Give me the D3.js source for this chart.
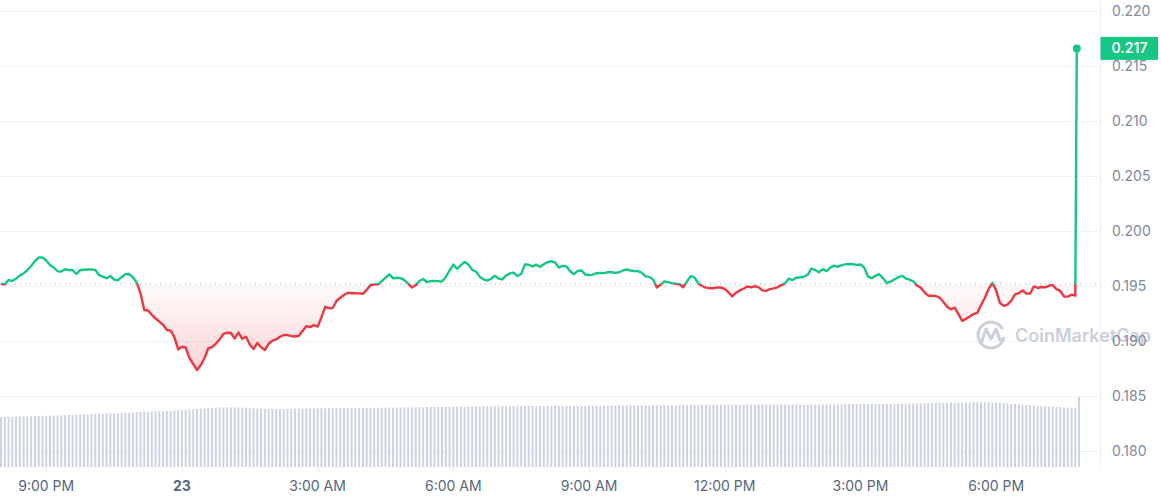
<!DOCTYPE html>
<html><head><meta charset="utf-8">
<script src="https://cdn.jsdelivr.net/npm/d3@7"></script>
<style>html,body{margin:0;padding:0;background:#fff;} svg{display:block;font-family:Inter,"Noto Sans",sans-serif;}</style>
</head><body><svg id="chart" width="1161" height="500"></svg>
<script>
// ---------------- data ----------------
const startTime = "2024-01-22T20:00:00";
const stepMinutes = 5;
const basePrice = 0.19518;
const prices = [
0.19518,0.19515,0.19555,0.19545,0.19568,0.19594,0.19614,0.19645,0.19682,0.19727,
0.19759,0.19759,0.19732,0.19691,0.19668,0.19634,0.19632,0.19652,0.19645,0.19643,
0.19609,0.19645,0.19648,0.19650,0.19650,0.19647,0.19600,0.19585,0.19571,0.19591,
0.19559,0.19552,0.19582,0.19607,0.19609,0.19579,0.19532,0.19436,0.19282,0.19277,
0.19238,0.19204,0.19177,0.19147,0.19100,0.19094,0.19036,0.18923,0.18948,0.18941,
0.18845,0.18791,0.18736,0.18782,0.18845,0.18934,0.18945,0.18975,0.19015,0.19064,
0.19075,0.19073,0.19023,0.19077,0.19020,0.19039,0.18968,0.18927,0.18982,0.18943,
0.18918,0.18975,0.19004,0.19014,0.19038,0.19055,0.19054,0.19045,0.19041,0.19048,
0.19091,0.19135,0.19126,0.19145,0.19131,0.19214,0.19311,0.19298,0.19300,0.19364,
0.19393,0.19418,0.19438,0.19434,0.19434,0.19433,0.19429,0.19464,0.19507,0.19515,
0.19515,0.19545,0.19575,0.19605,0.19571,0.19575,0.19572,0.19553,0.19523,0.19486,
0.19507,0.19545,0.19564,0.19536,0.19545,0.19545,0.19544,0.19540,0.19582,0.19641,
0.19695,0.19655,0.19690,0.19718,0.19695,0.19647,0.19632,0.19585,0.19561,0.19549,
0.19566,0.19593,0.19567,0.19560,0.19596,0.19615,0.19622,0.19591,0.19609,0.19697,
0.19693,0.19678,0.19694,0.19673,0.19698,0.19717,0.19725,0.19714,0.19668,0.19683,
0.19678,0.19634,0.19607,0.19638,0.19641,0.19605,0.19600,0.19603,0.19616,0.19618,
0.19617,0.19625,0.19625,0.19619,0.19625,0.19641,0.19651,0.19641,0.19636,0.19635,
0.19620,0.19588,0.19583,0.19558,0.19486,0.19513,0.19541,0.19535,0.19526,0.19520,
0.19516,0.19489,0.19542,0.19591,0.19577,0.19523,0.19500,0.19485,0.19479,0.19480,
0.19486,0.19486,0.19473,0.19443,0.19405,0.19439,0.19460,0.19475,0.19495,0.19488,
0.19498,0.19487,0.19460,0.19456,0.19471,0.19479,0.19488,0.19508,0.19525,0.19567,
0.19554,0.19575,0.19579,0.19584,0.19602,0.19659,0.19645,0.19625,0.19653,0.19635,
0.19667,0.19685,0.19674,0.19689,0.19697,0.19700,0.19698,0.19692,0.19695,0.19668,
0.19586,0.19571,0.19593,0.19607,0.19570,0.19527,0.19539,0.19559,0.19579,0.19593,
0.19570,0.19558,0.19542,0.19505,0.19485,0.19443,0.19412,0.19412,0.19409,0.19395,
0.19355,0.19312,0.19288,0.19303,0.19245,0.19183,0.19201,0.19222,0.19245,0.19255,
0.19327,0.19391,0.19473,0.19529,0.19461,0.19347,0.19319,0.19331,0.19365,0.19423,
0.19435,0.19459,0.19432,0.19431,0.19496,0.19482,0.19491,0.19488,0.19502,0.19508,
0.19471,0.19455,0.19405,0.19403,0.19421,0.19412
];
const lastPrice = 0.2166;
const lastMinute = 1427;
// volume (millions)
const volumes = [
1320,1322,1325,1326,1330,1333,1335,1337,1340,1343,
1346,1350,1352,1356,1358,1361,1365,1368,1371,1375,
1380,1384,1389,1392,1396,1400,1404,1410,1414,1417,
1420,1423,1428,1431,1436,1441,1445,1449,1455,1461,
1466,1470,1474,1478,1483,1488,1494,1500,1505,1511,
1517,1523,1530,1538,1546,1553,1560,1566,1570,1574,
1576,1577,1576,1573,1568,1562,1555,1548,1542,1537,
1534,1532,1531,1530,1531,1532,1533,1535,1537,1539,
1541,1543,1545,1547,1549,1550,1551,1552,1553,1554,
1555,1556,1556,1557,1557,1558,1559,1560,1561,1562,
1563,1564,1565,1566,1567,1568,1570,1571,1572,1574,
1575,1577,1578,1580,1581,1583,1584,1586,1587,1589,
1590,1592,1593,1594,1596,1597,1598,1599,1600,1601,
1602,1603,1604,1605,1606,1607,1607,1608,1609,1609,
1610,1610,1611,1611,1612,1612,1613,1613,1614,1614,
1615,1615,1616,1616,1617,1617,1618,1618,1619,1619,
1620,1620,1621,1621,1622,1622,1623,1623,1624,1624,
1625,1625,1626,1626,1627,1628,1629,1630,1631,1632,
1633,1634,1635,1636,1636,1637,1637,1638,1638,1639,
1639,1640,1640,1641,1641,1642,1642,1643,1643,1644,
1644,1645,1645,1646,1646,1647,1647,1648,1648,1649,
1649,1650,1650,1651,1651,1652,1652,1653,1653,1654,
1654,1655,1655,1656,1657,1657,1658,1658,1659,1660,
1660,1661,1662,1662,1663,1664,1665,1666,1667,1668,
1670,1672,1674,1676,1678,1680,1683,1686,1689,1692,
1695,1697,1699,1701,1703,1704,1705,1706,1707,1707,
1708,1708,1707,1705,1700,1694,1686,1678,1670,1662,
1655,1648,1640,1632,1624,1617,1610,1603,1596,1590,
1584,1578,1572,1565,1558,1552,1855
];
const yTicks = [0.180,0.185,0.190,0.195,0.200,0.205,0.210,0.215,0.220];
const xTickEveryHours = 3;
const watermarkText = "CoinMarketCap";

// ---------------- chart ----------------
const GREEN = "#16c784", RED = "#ea3943";
const svg = d3.select("#chart");
const t0 = new Date(startTime);
const t1 = d3.timeHour.offset(t0, 24);
const x = d3.scaleTime().domain([t0, t1]).range([1, 1086.6]);
const y = d3.scaleLinear().domain([0.180, 0.220]).range([451, 11]);
const yv = d3.scaleLinear().domain([0, 1900]).range([467, 395]);

const series = prices.map((v, i) => ({t: d3.timeMinute.offset(t0, i * stepMinutes), v}));
series.push({t: d3.timeMinute.offset(t0, lastMinute), v: lastPrice});
const volSeries = volumes.map((v, i) => ({t: d3.timeMinute.offset(t0, i * stepMinutes), v}));

const plotRight = 1100.5;
const baseY = y(basePrice);

const defs = svg.append("defs");
defs.append("clipPath").attr("id", "clipUp").append("rect")
  .attr("x", -5).attr("y", 0).attr("width", plotRight + 5).attr("height", baseY);
defs.append("clipPath").attr("id", "clipDown").append("rect")
  .attr("x", -5).attr("y", baseY).attr("width", plotRight + 5).attr("height", 500 - baseY);
const gRed = defs.append("linearGradient").attr("id", "gradRed")
  .attr("gradientUnits", "userSpaceOnUse").attr("x1", 0).attr("x2", 0)
  .attr("y1", baseY).attr("y2", y(0.1873));
gRed.append("stop").attr("offset", 0).attr("stop-color", RED).attr("stop-opacity", 0.02);
gRed.append("stop").attr("offset", 1).attr("stop-color", RED).attr("stop-opacity", 0.22);

// gridlines
svg.append("g").selectAll("line").data(yTicks).join("line")
  .attr("x1", 0).attr("x2", plotRight).attr("y1", d => Math.round(y(d)) + 0.5).attr("y2", d => Math.round(y(d)) + 0.5)
  .attr("stroke", "#f1f3f6").attr("stroke-width", 1);
svg.append("line").attr("x1", plotRight).attr("x2", plotRight).attr("y1", 0).attr("y2", 470)
  .attr("stroke", "#eff2f5");

// volume bars
svg.append("g").selectAll("rect").data(volSeries).join("rect")
  .attr("x", d => x(d.t) - 1).attr("width", 2)
  .attr("y", d => yv(d.v)).attr("height", d => yv(0) - yv(d.v))
  .attr("fill", "#cdd3e0");

// x axis ticks & labels
const xTicks = x.ticks(d3.timeHour.every(xTickEveryHours));
const fmtTime = d3.timeFormat("%-I:%M %p"), fmtDay = d3.timeFormat("%-d");
const xg = svg.append("g");
xg.selectAll("line").data(xTicks).join("line")
  .attr("x1", d => Math.round(x(d)) + 0.5).attr("x2", d => Math.round(x(d)) + 0.5)
  .attr("y1", 468).attr("y2", 473).attr("stroke", "#e3e6eb");
xg.selectAll("text").data(xTicks).join("text")
  .attr("x", d => x(d)).attr("y", 491).attr("text-anchor", "middle")
  .attr("font-size", 14)
  .attr("font-weight", d => d.getHours() === 0 ? 700 : 400)
  .attr("fill", "#58667e")
  .text(d => d.getHours() === 0 ? fmtDay(d) : fmtTime(d));

// watermark
const wm = svg.append("g");
wm.append("path")
  .attr("d", d3.arc()({innerRadius: 11.5, outerRadius: 14.5, startAngle: 0.55 * Math.PI, endAngle: 2.35 * Math.PI}))
  .attr("transform", "translate(991,335)").attr("fill", "#cbcfda");
wm.append("path")
  .attr("d", "M982,341 L986,329 L991,339 L996,329 L1000,340")
  .attr("fill", "none").attr("stroke", "#cbcfda").attr("stroke-width", 3).attr("stroke-linejoin", "round").attr("stroke-linecap", "round");
wm.append("text").attr("x", 1015).attr("y", 342).attr("font-size", 18).attr("font-weight", 600)
  .attr("fill", "#cbcfda").text(watermarkText);

// area below baseline
const area = d3.area().x(d => x(d.t)).y0(baseY).y1(d => y(d.v));
svg.append("path").datum(series).attr("d", area).attr("fill", "url(#gradRed)").attr("clip-path", "url(#clipDown)");

// baseline dotted
svg.append("line").attr("x1", 0).attr("x2", plotRight).attr("y1", baseY).attr("y2", baseY)
  .attr("stroke", "#a6adbb").attr("stroke-width", 1).attr("stroke-dasharray", "1,4");

// price line
const line = d3.line().x(d => x(d.t)).y(d => y(d.v));
svg.append("path").datum(series).attr("d", line).attr("fill", "none").attr("stroke", GREEN)
  .attr("stroke-width", 2.4).attr("stroke-linejoin", "round").attr("clip-path", "url(#clipUp)");
svg.append("path").datum(series).attr("d", line).attr("fill", "none").attr("stroke", RED)
  .attr("stroke-width", 2.4).attr("stroke-linejoin", "round").attr("clip-path", "url(#clipDown)");

// end dot
const last = series[series.length - 1];
svg.append("circle").attr("cx", x(last.t)).attr("cy", y(last.v)).attr("r", 4).attr("fill", GREEN);

// y labels
svg.append("g").selectAll("text").data(yTicks).join("text")
  .attr("x", 1112).attr("y", d => y(d)).attr("dy", "0.36em")
  .attr("font-size", 14).attr("fill", "#808a9d")
  .text(d => d3.format(".3f")(d));

// price tag
const tagY = y(last.v);
svg.append("rect").attr("x", plotRight).attr("y", tagY - 11.5).attr("width", 57.5).attr("height", 23).attr("fill", GREEN);
svg.append("text").attr("x", plotRight + 29).attr("y", tagY).attr("dy", "0.36em").attr("text-anchor", "middle")
  .attr("font-size", 14).attr("font-weight", 600).attr("fill", "#fff").text(d3.format(".3f")(last.v));
</script></body></html>
